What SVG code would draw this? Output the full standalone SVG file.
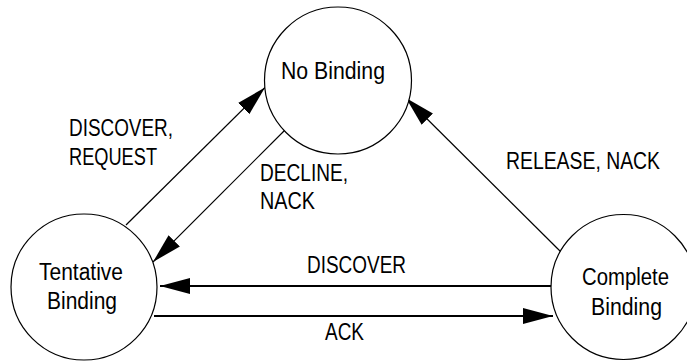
<svg xmlns="http://www.w3.org/2000/svg" width="687" height="361" viewBox="0 0 687 361">
<style>
.node{fill:#fff;stroke:#000;stroke-width:1.2}
.t{font-family:"Liberation Sans Narrow","Arial Narrow","Liberation Sans",Arial,sans-serif;font-size:23px;fill:#000}
.thin{stroke:#000;stroke-width:1.2;fill:none}
.thick{stroke:#000;stroke-width:2.2;fill:none}
</style>
<defs>
<marker id="ah" markerUnits="userSpaceOnUse" markerWidth="30" markerHeight="16" refX="30" refY="8" orient="auto" viewBox="0 0 30 16">
<path d="M0,0 L30,8 L0,16 Z" fill="#000"/>
</marker>
</defs>
<g id="connectors">
<line class="thin" x1="126" y1="225" x2="265" y2="87.5" marker-end="url(#ah)"/>
<line class="thin" x1="285" y1="130" x2="153" y2="262" marker-end="url(#ah)"/>
<line class="thin" x1="562" y1="253" x2="406" y2="98" marker-end="url(#ah)"/>
<line class="thick" x1="553" y1="286" x2="160" y2="286" marker-end="url(#ah)"/>
<line class="thick" x1="154" y1="316" x2="553" y2="316" marker-end="url(#ah)"/>
<text class="t" x="69" y="136" textLength="104" lengthAdjust="spacingAndGlyphs">DISCOVER,</text>
<text class="t" x="69" y="165" textLength="88" lengthAdjust="spacingAndGlyphs">REQUEST</text>
<text class="t" x="260" y="181" textLength="88" lengthAdjust="spacingAndGlyphs">DECLINE,</text>
<text class="t" x="260" y="209" textLength="55" lengthAdjust="spacingAndGlyphs">NACK</text>
<text class="t" x="506" y="169" textLength="154" lengthAdjust="spacingAndGlyphs">RELEASE, NACK</text>
<text class="t" x="307" y="273" textLength="99" lengthAdjust="spacingAndGlyphs">DISCOVER</text>
<text class="t" x="325" y="340" textLength="39" lengthAdjust="spacingAndGlyphs">ACK</text>
</g>
<g id="no-binding">
<circle class="node" cx="338" cy="80.5" r="73.5"/>
<text class="t" x="281" y="79" textLength="104" lengthAdjust="spacingAndGlyphs">No Binding</text>
</g>
<g id="tentative-binding">
<circle class="node" cx="84" cy="287" r="73"/>
<text class="t" x="39" y="280" textLength="84" lengthAdjust="spacingAndGlyphs">Tentative</text>
<text class="t" x="47" y="309" textLength="70" lengthAdjust="spacingAndGlyphs">Binding</text>
</g>
<g id="complete-binding">
<circle class="node" cx="623.5" cy="287" r="72.5"/>
<text class="t" x="582" y="285" textLength="87" lengthAdjust="spacingAndGlyphs">Complete</text>
<text class="t" x="591" y="315" textLength="71" lengthAdjust="spacingAndGlyphs">Binding</text>
</g>
</svg>
